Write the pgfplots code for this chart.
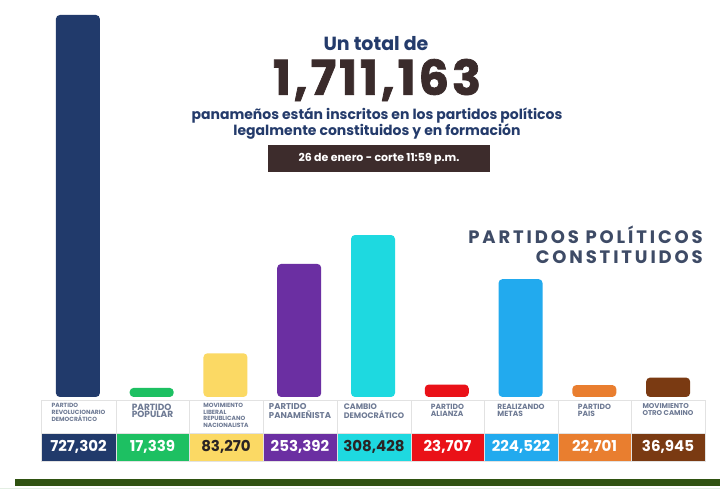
\documentclass[border=0pt]{standalone}
\usepackage{pgfplots}
\pgfplotsset{compat=1.18}
\usepackage{fontspec}
\setmainfont{Poppins}
\definecolor{cPRD}{HTML}{213A6B}
\definecolor{cPP}{HTML}{1DC062}
\definecolor{cMOL}{HTML}{FBD964}
\definecolor{cPAN}{HTML}{6B2FA2}
\definecolor{cCD}{HTML}{1ED9E0}
\definecolor{cALI}{HTML}{EA1118}
\definecolor{cRM}{HTML}{22AAEE}
\definecolor{cPAIS}{HTML}{E97E2F}
\definecolor{cMOCA}{HTML}{7A3A12}
\definecolor{navy}{HTML}{243B6B}
\definecolor{bignum}{HTML}{3A2B2B}
\definecolor{boxc}{HTML}{3D2C2C}
\definecolor{headc}{HTML}{3E4B66}
\definecolor{labc}{HTML}{6E7A94}
\definecolor{cellb}{HTML}{E2E2E2}
\definecolor{darktxt}{HTML}{2A2424}
\definecolor{lineg}{HTML}{2F5211}
\definecolor{lightg}{HTML}{E3EEE3}
% #1 x0, #2 x1, #3 label, #4 size, #5 leading, #6 value, #7 fill, #8 text colour
\newcommand{\cell}[8]{%
  \draw[draw=cellb, fill=white, line width=0.8pt] (#1,67) rectangle (#2,100);
  \node[anchor=north, align=left, text=labc, inner sep=0pt,
        font=\fontsize{#4}{#5}\selectfont\bfseries] at ({(#1+#2)/2},96.5) {#3};
  \fill[#7] (#1,39) rectangle (#2,67);
  \draw[cellb, line width=0.5pt] (#1,39) rectangle (#2,67);
  \node[text=#8, inner sep=0pt, font=\fontsize{15}{16}\selectfont\bfseries] at ({(#1+#2)/2},53) {#6};
}
\begin{document}
\begin{tikzpicture}[x=1pt,y=1pt]
\fill[white] (0,0) rectangle (720,500);
\begin{axis}[at={(41pt,103pt)}, anchor=south west, scale only axis,
  width=664pt, height=382pt, xmin=-0.5, xmax=8.5, ymin=0, ymax=727302,
  hide axis, ybar, bar width=44pt, bar shift=0pt, clip=false]
\addplot[fill=cPRD, draw=none, rounded corners=4pt] coordinates {(0,727302)};
\addplot[fill=cPP, draw=none, rounded corners=4pt] coordinates {(1,17339)};
\addplot[fill=cMOL, draw=none, rounded corners=4pt] coordinates {(2,83270)};
\addplot[fill=cPAN, draw=none, rounded corners=4pt] coordinates {(3,253392)};
\addplot[fill=cCD, draw=none, rounded corners=4pt] coordinates {(4,308428)};
\addplot[fill=cALI, draw=none, rounded corners=4pt] coordinates {(5,23707)};
\addplot[fill=cRM, draw=none, rounded corners=4pt] coordinates {(6,224522)};
\addplot[fill=cPAIS, draw=none, rounded corners=4pt] coordinates {(7,22701)};
\addplot[fill=cMOCA, draw=none, rounded corners=4pt] coordinates {(8,36945)};
\end{axis}
% titles
\node[text=navy, font=\fontsize{19}{22}\selectfont\bfseries] at (376,456) {Un total de};
\node[text=bignum, font=\fontsize{48}{50}\selectfont\bfseries\addfontfeatures{LetterSpace=6,FakeBold=1.5}] at (377,420) {1,711,163};
\node[text=navy, align=center, font=\fontsize{14}{16}\selectfont\bfseries] at (377,376)
  {panameños están inscritos en los partidos políticos\\legalmente constituidos y en formación};
\fill[boxc] (268,328) rectangle (490,355);
\node[text=white, font=\fontsize{11}{13}\selectfont\bfseries] at (379,341.5) {26 de enero - corte 11:59 p.m.};
\node[anchor=north east, align=right, text=headc, inner sep=0pt,
  font=\fontsize{18}{20}\selectfont\bfseries\addfontfeatures{LetterSpace=16}] at (703,274)
  {PARTIDOS POLÍTICOS\\CONSTITUIDOS};
% table
\cell{41}{116}{PARTIDO\\REVOLUCIONARIO\\DEMOCRÁTICO}{6}{6.6}{727,302}{cPRD}{white}
\cell{116}{189}{PARTIDO\\POPULAR}{9}{7.5}{17,339}{cPP}{white}
\cell{189}{263}{MOVIMIENTO\\LIBERAL\\REPUBLICANO\\NACIONALISTA}{6}{6.5}{83,270}{cMOL}{darktxt}
\cell{263}{337}{PARTIDO\\PANAMEÑISTA}{8.5}{7.5}{253,392}{cPAN}{white}
\cell{337}{411}{CAMBIO\\DEMOCRÁTICO}{8}{7.5}{308,428}{cCD}{darktxt}
\cell{411}{484}{PARTIDO\\ALIANZA}{7.5}{7}{23,707}{cALI}{white}
\cell{484}{558}{REALIZANDO\\METAS}{7.5}{7}{224,522}{cRM}{white}
\cell{558}{631}{PARTIDO\\PAIS}{7.5}{7}{22,701}{cPAIS}{white}
\cell{631}{705}{MOVIMIENTO\\OTRO CAMINO}{7}{7}{36,945}{cMOCA}{white}
% bottom line
\fill[lineg] (15,14) rectangle (720,21);
\fill[lightg] (0,10.5) rectangle (720,12);
\end{tikzpicture}
\end{document}
